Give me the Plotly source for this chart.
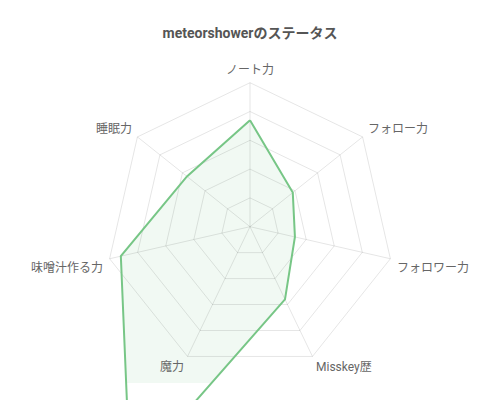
import numpy as np
import plotly.graph_objects as go

# ステータス (0-100 scale, 魔力 goes way past the outer ring)
categories = ["ノート力", "フォロー力", "フォロワー力", "Misskey歴", "魔力", "味噌汁作る力", "睡眠力"]
values = [74, 38, 32, 56, 192, 92, 56]
ring_ticks = [20, 40, 60, 80, 100]

title = "meteorshowerのステータス"
green = "rgb(119,198,134)"
fill_green = "rgba(119,198,134,0.1)"
grid = "rgba(0,0,0,0.1)"
font = "Roboto, 'Noto Sans CJK JP', sans-serif"

# the page puts the plot 8px in from the corner, so work in a 492x392 box
W, H = 492, 392
cx, cy = 242, 218.7    # centre of the radar in px
px = 1.44              # px per value unit
fill_bottom = 375      # chart.js clips the fill at the chart area

n = len(categories)
ang = np.arange(n) * 2 * np.pi / n
sin, cos = np.sin(ang), np.cos(ang)


def closed(a):
    return list(a) + [a[0]]


xr = [-cx / px, (W - cx) / px]
yr_full = [-(H - cy) / px, cy / px]
yr_fill = [-(fill_bottom - cy) / px, cy / px]

v = np.array(values, dtype=float)
vx, vy = v * sin, v * cos

fig = go.Figure()

# fill (own subplot so it stops at the chart area bottom)
fig.add_trace(go.Scatter(x=closed(vx), y=closed(vy), mode="lines", fill="toself",
                         fillcolor=fill_green, line=dict(width=0),
                         xaxis="x", yaxis="y", hoverinfo="skip"))

# rings
for t in ring_ticks:
    fig.add_trace(go.Scatter(x=closed(t * sin), y=closed(t * cos), mode="lines",
                             line=dict(color=grid, width=1),
                             xaxis="x2", yaxis="y2", hoverinfo="skip"))

# spokes
sx, sy = [], []
for s, c in zip(sin, cos):
    sx += [0, ring_ticks[-1] * s, None]
    sy += [0, ring_ticks[-1] * c, None]
fig.add_trace(go.Scatter(x=sx, y=sy, mode="lines", line=dict(color=grid, width=1),
                         xaxis="x2", yaxis="y2", hoverinfo="skip"))

# data line
fig.add_trace(go.Scatter(x=closed(vx), y=closed(vy), mode="lines",
                         line=dict(color=green, width=2),
                         xaxis="x2", yaxis="y2", hoverinfo="skip"))

# point labels
rl = ring_ticks[-1] + 6 / px
for lab, s, c in zip(categories, sin, cos):
    xa = "center" if abs(s) < 0.05 else ("left" if s > 0 else "right")
    ya = "bottom" if c > 0 else "top"
    if c > 0.9:
        ys = -1
    elif c > 0:
        ys = -4
    elif c < -0.5:
        ys = 3
    else:
        ys = 0
    fig.add_annotation(x=rl * s, y=rl * c, xref="x2", yref="y2", text=lab,
                       showarrow=False, xanchor=xa, yanchor=ya, borderpad=0, yshift=ys,
                       font=dict(size=12, color="#666", family=font))

ax = dict(visible=False, showgrid=False, zeroline=False, fixedrange=True)
fig.update_layout(
    width=W, height=H,
    margin=dict(l=0, r=0, t=0, b=0),
    paper_bgcolor="white",
    plot_bgcolor="rgba(0,0,0,0)",
    showlegend=False,
    title=dict(text="<b>" + title + "</b>", x=cx / W, xanchor="center",
               yref="container", y=1 - 25 / H, yanchor="middle",
               font=dict(size=14, color="#555", family=font)),
    xaxis=dict(ax, range=xr, domain=[0, 1]),
    yaxis=dict(ax, range=yr_fill, domain=[(H - fill_bottom) / H, 1]),
    xaxis2=dict(ax, range=xr, domain=[0, 1], anchor="y2"),
    yaxis2=dict(ax, range=yr_full, domain=[0, 1], anchor="x2"),
)

fig.write_html("out.html")
